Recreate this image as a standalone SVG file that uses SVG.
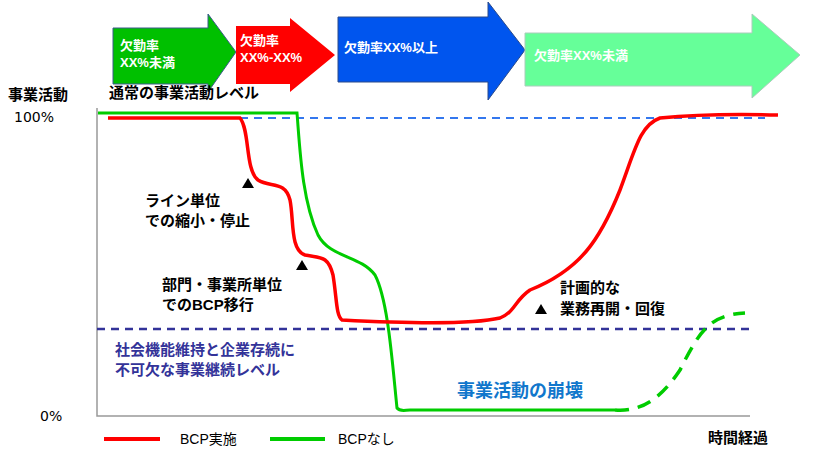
<svg xmlns="http://www.w3.org/2000/svg" width="836" height="458" viewBox="0 0 836 458">
<style>
text{font-family:"Liberation Sans","Noto Sans CJK JP",sans-serif;font-weight:bold}
.w{fill:#fff;font-size:13px}
.k{fill:#000;font-size:15px}
</style>
<rect width="836" height="458" fill="#fff"/>
<g id="phases">
<g id="p1"><path d="M113 28H208V14L236 52L208 92V84H113Z" fill="#00c000" stroke="#3a5a8a"/><text class="w" x="120" y="50">欠勤率</text><text class="w" x="120" y="67">XX%未満</text></g>
<g id="p2"><path d="M236 26H290V18L335 55L290 92V84H236Z" fill="#ff0000"/><text class="w" x="240" y="45">欠勤率</text><text class="w" x="240" y="62">XX%-XX%</text></g>
<g id="p3"><path d="M338 17H488V2L525 50L488 100V82H338Z" fill="#0055ee" stroke="#2a4a8a"/><text class="w" x="344" y="52">欠勤率XX%以上</text></g>
<g id="p4"><path d="M525 33H752V14L800 55L752 98V86H525Z" fill="#66ff99" stroke="#aaccbb"/><text class="w" x="534" y="60">欠勤率XX%未満</text></g>
</g>
<g id="axes" stroke="#999" stroke-width="1.5" fill="none"><path d="M97 108V416H750"/></g>
<g id="connectors" fill="none">
<path d="M240 118H765" stroke="#3377ee" stroke-width="2" stroke-dasharray="8,6"/>
<path d="M97 329H750" stroke="#333399" stroke-width="2.5" stroke-dasharray="8,6"/>
<path d="M98 113H297C300 150 302 200 318 235C330 258 360 255 375 275C388 300 392 360 397 408C400 412 405 410 410 410H615" stroke="#00cc00" stroke-width="3"/>
<path d="M615 410C640 412 660 400 680 370C700 330 710 315 745 313" stroke="#00cc00" stroke-width="3.5" stroke-dasharray="14,9"/>
<path d="M108 118H240C250 130 245 170 258 180C270 188 285 180 290 200C294 220 290 250 305 255C320 258 328 255 333 275C337 300 336 315 342 320C400 323 470 325 500 318C515 312 515 300 530 290C580 270 600 240 620 190C635 150 640 125 660 118C690 115 740 114 778 115" stroke="#ff0000" stroke-width="3.5"/>
</g>
<g id="markers" fill="#000"><path d="M248 178L254 188H242Z"/><path d="M302 260L308 270H296Z"/><path d="M541 304L547 314H535Z"/></g>
<g id="labels">
<text class="k" x="8" y="100">事業活動</text>
<text x="14" y="122" style="font-size:14px;font-weight:normal;font-family:'DejaVu Sans',sans-serif">100%</text>
<text x="40" y="421" style="font-size:14px;font-weight:normal;font-family:'DejaVu Sans',sans-serif">0%</text>
<text class="k" x="109" y="98">通常の事業活動レベル</text>
<text class="k" x="145" y="206">ライン単位</text>
<text class="k" x="145" y="226">での縮小・停止</text>
<text class="k" x="162" y="290">部門・事業所単位</text>
<text class="k" x="162" y="310">でのBCP移行</text>
<text class="k" x="560" y="293">計画的な</text>
<text class="k" x="560" y="314">業務再開・回復</text>
<text x="115" y="355" style="font-size:15px;fill:#333399">社会機能維持と企業存続に</text>
<text x="115" y="375" style="font-size:15px;fill:#333399">不可欠な事業継続レベル</text>
<text x="457" y="397" style="font-size:18px;fill:#1177cc">事業活動の崩壊</text>
<text class="k" x="708" y="443">時間経過</text>
</g>
<g id="legend">
<path d="M104 439H160" stroke="#ff0000" stroke-width="4"/><text x="180" y="444" style="font-size:14px;font-weight:normal">BCP実施</text>
<path d="M270 439H325" stroke="#00cc00" stroke-width="4"/><text x="338" y="444" style="font-size:14px;font-weight:normal">BCPなし</text>
</g>
</svg>
